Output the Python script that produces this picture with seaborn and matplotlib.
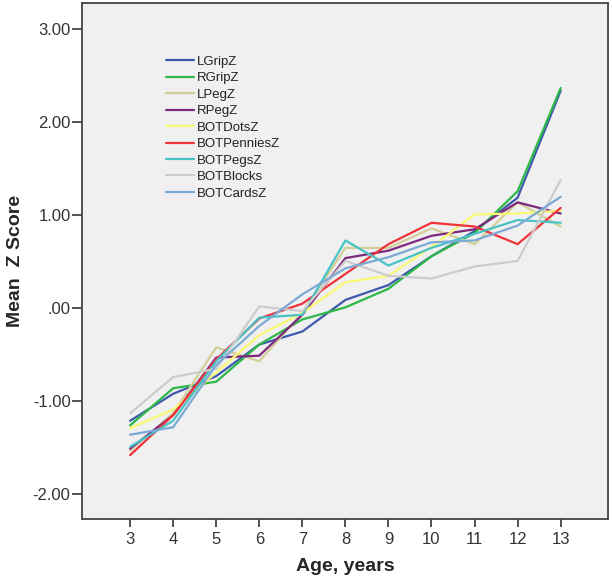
import numpy as np
import pandas as pd
import matplotlib
matplotlib.use("Agg")
import matplotlib.pyplot as plt
import seaborn as sns

# Data
ages = [3, 4, 5, 6, 7, 8, 9, 10, 11, 12, 13]

lgrip = [-1.21, -0.92, -0.73, -0.39, -0.25, 0.09, 0.25, 0.56, 0.83, 1.19, 2.34]
rgrip = [-1.26, -0.86, -0.79, -0.39, -0.12, 0.01, 0.21, 0.56, 0.81, 1.26, 2.37]
lpeg = [-1.53, -1.13, -0.42, -0.57, -0.05, 0.65, 0.65, 0.86, 0.69, 1.14, 0.88]
rpeg = [-1.51, -1.15, -0.53, -0.51, -0.07, 0.54, 0.62, 0.78, 0.85, 1.14, 1.02]
bot_dots = [-1.29, -1.09, -0.69, -0.29, -0.05, 0.28, 0.35, 0.66, 1.01, 1.02, 1.05]
bot_pennies = [-1.58, -1.15, -0.55, -0.11, 0.05, 0.37, 0.69, 0.92, 0.88, 0.69, 1.08]
bot_pegs = [-1.49, -1.21, -0.57, -0.10, -0.07, 0.73, 0.46, 0.65, 0.80, 0.95, 0.92]
bot_blocks = [-1.13, -0.74, -0.65, 0.02, -0.03, 0.51, 0.35, 0.32, 0.45, 0.51, 1.38]
bot_cards = [-1.36, -1.28, -0.61, -0.19, 0.15, 0.43, 0.55, 0.71, 0.73, 0.89, 1.20]

series_names = ["LGripZ", "RGripZ", "LPegZ", "RPegZ", "BOTDotsZ",
                "BOTPenniesZ", "BOTPegsZ", "BOTBlocks", "BOTCardsZ"]
series_values = [lgrip, rgrip, lpeg, rpeg, bot_dots,
                 bot_pennies, bot_pegs, bot_blocks, bot_cards]
colors = ["#3e58ac", "#2eb848", "#d3ce97", "#7c287d", "#fbf873",
          "#ef3338", "#48c2c5", "#cccccc", "#7aaad5"]

y_ticks = [-2, -1, 0, 1, 2, 3]
y_tick_labels = ["-2.00", "-1.00", ".00", "1.00", "2.00", "3.00"]

# long-form table for seaborn
rows = []
for name, vals in zip(series_names, series_values):
    for a, v in zip(ages, vals):
        rows.append({"age": a, "z": v, "measure": name})
df = pd.DataFrame(rows)

sns.set_style("ticks", {"axes.facecolor": "#f0f0f0",
                        "axes.edgecolor": "#444444"})
plt.rcParams["font.family"] = ["Liberation Sans", "DejaVu Sans"]

fig = plt.figure(figsize=(6.12, 5.83), dpi=100)
ax = fig.add_axes([0.1345, 0.1093, 0.859, 0.8856])

sns.lineplot(data=df, x="age", y="z", hue="measure",
             hue_order=series_names, palette=dict(zip(series_names, colors)),
             linewidth=1.6, ax=ax, legend=True)

ax.set_xlim(1.89, 14.1)
ax.set_ylim(-2.27, 3.285)
ax.set_xticks(ages)
ax.set_xticklabels([str(a) for a in ages])
ax.set_yticks(y_ticks)
ax.set_yticklabels(y_tick_labels)

for s in ax.spines.values():
    s.set_linewidth(1.3)
    s.set_color("#444444")
ax.tick_params(axis="y", length=7, width=1.3, color="#444444",
               labelsize=12, labelcolor="#333333", pad=1.5)
ax.tick_params(axis="x", length=6, width=1.3, color="#444444",
               labelsize=12, labelcolor="#333333", pad=3)

ax.set_xlabel("Age, years", fontsize=14, fontweight="bold", labelpad=8)
ax.set_ylabel("Mean  Z Score", fontsize=14, fontweight="bold", labelpad=6)

leg = ax.legend(loc="upper left", bbox_to_anchor=(0.16, 0.898),
                frameon=False, fontsize=9.5, borderpad=0, borderaxespad=0,
                labelspacing=0.32, handlelength=2.1, handletextpad=0.2)
for t in leg.get_texts():
    t.set_color("#222222")

fig.savefig("out.png", dpi=100)
